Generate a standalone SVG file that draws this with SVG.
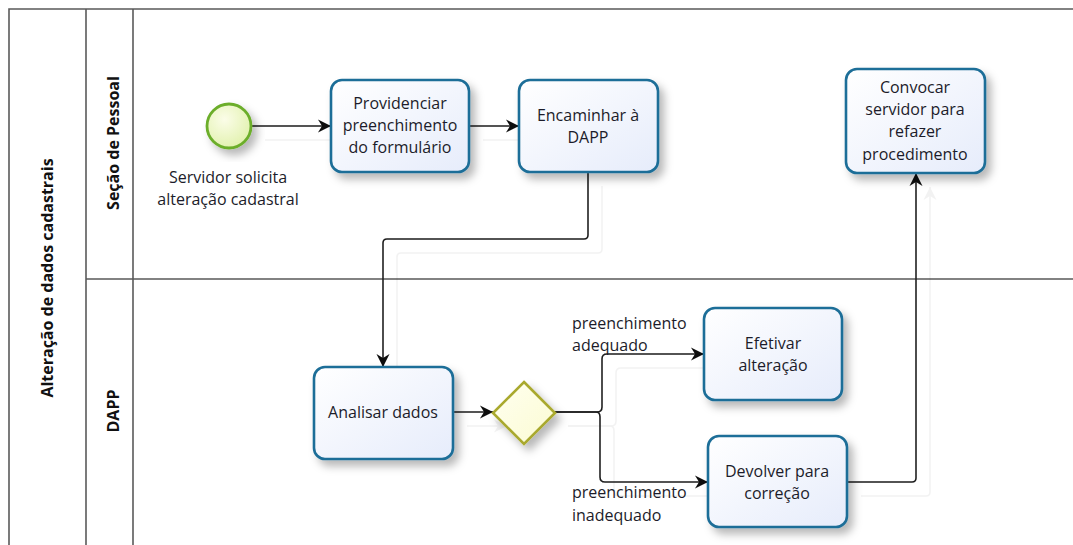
<svg xmlns="http://www.w3.org/2000/svg" width="1073" height="545" viewBox="0 0 1073 545">
  <defs>
    <style>
      .pool { fill: none; stroke: #5a5a5a; stroke-width: 1.6; }
      .hdr { font-family: "Open Sans", "Noto Sans", sans-serif; font-weight: bold; font-size: 16px; fill: #111; text-anchor: middle; }
      .task rect { fill: url(#taskFill); stroke: #1f6e98; stroke-width: 2.6; filter: url(#nodeShadow); }
      .lbl { font-family: "Open Sans", "Noto Sans", sans-serif; font-size: 16px; fill: #1c1c2a; text-anchor: middle; }
      .edge-lbl { font-family: "Open Sans", "Noto Sans", sans-serif; font-size: 16px; fill: #1c1c2a; }
      .flow { fill: none; stroke: #1e1e1e; stroke-width: 1.6; }
      .flow.arrow { marker-end: url(#arrowHead); }
    </style>
    <linearGradient id="taskFill" x1="0" y1="0" x2="1" y2="1">
      <stop offset="0" stop-color="#ffffff"/>
      <stop offset="1" stop-color="#e6ecfb"/>
    </linearGradient>
    <radialGradient id="startFill" cx="0.4" cy="0.35" r="0.75">
      <stop offset="0" stop-color="#fbfde8"/>
      <stop offset="1" stop-color="#dff0a8"/>
    </radialGradient>
    <linearGradient id="gateFill" x1="0" y1="0" x2="1" y2="1">
      <stop offset="0" stop-color="#fffff0"/>
      <stop offset="1" stop-color="#fbfbd2"/>
    </linearGradient>
    <filter id="nodeShadow" x="-20%" y="-20%" width="150%" height="150%">
      <feDropShadow dx="5" dy="6" stdDeviation="4" flood-color="#000" flood-opacity="0.28"/>
    </filter>
    <filter id="flowShadow" x="-10%" y="-10%" width="130%" height="130%">
      <feOffset in="SourceAlpha" dx="14" dy="14" result="off"/>
      <feFlood flood-color="#000" flood-opacity="0.05"/>
      <feComposite in2="off" operator="in" result="sh"/>
      <feMerge>
        <feMergeNode in="sh"/>
        <feMergeNode in="SourceGraphic"/>
      </feMerge>
    </filter>
    <marker id="arrowHead" markerUnits="userSpaceOnUse" markerWidth="14" markerHeight="14" refX="13" refY="7" orient="auto">
      <path d="M0,0.5 L13,7 L0,13.5 L4,7 Z" fill="#111"/>
    </marker>
  </defs>

  <rect width="1073" height="545" fill="#ffffff"/>

  <!-- pool and lanes -->
  <g id="pool">
    <path class="pool" d="M1073,9 H9 V548 M86,9 V548 M133,9 V548 M86,279 H1073"/>
    <text class="hdr" transform="translate(53,278) rotate(-90)">Alteração de dados cadastrais</text>
    <text class="hdr" transform="translate(119,143) rotate(-90)">Seção de Pessoal</text>
    <text class="hdr" transform="translate(119,411) rotate(-90)">DAPP</text>
  </g>

  <!-- sequence flows -->
  <g id="connectors" filter="url(#flowShadow)">
    <path class="flow arrow" d="M251,126 H331"/>
    <path class="flow arrow" d="M469,126 H519"/>
    <path class="flow arrow" d="M588,172 V235 Q588,239 584,239 H387 Q383,239 383,243 V367"/>
    <path class="flow arrow" d="M453,412 H493"/>
    <path class="flow arrow" d="M554,412 H597 Q602,412 602,407 V359 Q602,354 607,354 H704"/>
    <path class="flow arrow" d="M554,412 H596 Q600,412 600,417 V477 Q600,482 605,482 H708"/>
    <path class="flow arrow" d="M847,482 H912 Q916,482 916,478 V173"/>
  </g>

  <!-- gateway branch labels -->
  <g id="flow-labels">
    <text class="edge-lbl" x="572" y="329">preenchimento</text>
    <text class="edge-lbl" x="572" y="351">adequado</text>
    <text class="edge-lbl" x="572" y="498">preenchimento</text>
    <text class="edge-lbl" x="572" y="521">inadequado</text>
  </g>

  <!-- start event -->
  <g id="start">
    <circle cx="229" cy="126" r="22" fill="url(#startFill)" stroke="#6cae2c" stroke-width="2.8" filter="url(#nodeShadow)"/>
    <text class="lbl" x="228" y="183">Servidor solicita</text>
    <text class="lbl" x="228" y="205">alteração cadastral</text>
  </g>

  <g id="providenciar" class="task">
    <rect x="331" y="80" width="138" height="92" rx="11"/>
    <text class="lbl" x="400" y="109">Providenciar</text>
    <text class="lbl" x="400" y="131">preenchimento</text>
    <text class="lbl" x="400" y="153">do formulário</text>
  </g>

  <g id="encaminhar" class="task">
    <rect x="519" y="80" width="139" height="92" rx="11"/>
    <text class="lbl" x="588" y="121">Encaminhar à</text>
    <text class="lbl" x="588" y="143">DAPP</text>
  </g>

  <g id="convocar" class="task">
    <rect x="846" y="69" width="139" height="104" rx="11"/>
    <text class="lbl" x="915" y="93">Convocar</text>
    <text class="lbl" x="915" y="115">servidor para</text>
    <text class="lbl" x="915" y="137">refazer</text>
    <text class="lbl" x="915" y="160">procedimento</text>
  </g>

  <g id="analisar" class="task">
    <rect x="314" y="367" width="139" height="92" rx="11"/>
    <text class="lbl" x="383" y="418">Analisar dados</text>
  </g>

  <g id="gateway">
    <path d="M524,382 L555,413 L524,444 L493,413 Z" fill="url(#gateFill)" stroke="#a9a92e" stroke-width="2.6" stroke-linejoin="miter" filter="url(#nodeShadow)"/>
  </g>

  <g id="efetivar" class="task">
    <rect x="704" y="308" width="138" height="92" rx="11"/>
    <text class="lbl" x="773" y="349">Efetivar</text>
    <text class="lbl" x="773" y="371">alteração</text>
  </g>

  <g id="devolver" class="task">
    <rect x="708" y="436" width="139" height="91" rx="11"/>
    <text class="lbl" x="777" y="477">Devolver para</text>
    <text class="lbl" x="777" y="499">correção</text>
  </g>
</svg>
